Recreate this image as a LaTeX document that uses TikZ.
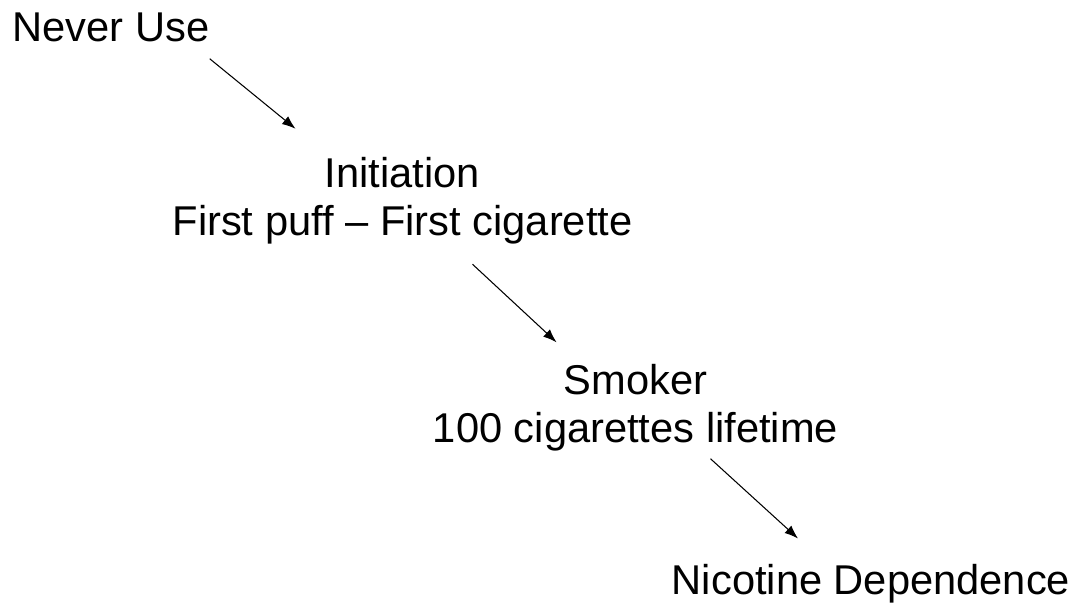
\documentclass[tikz,border=0pt]{standalone}
\usepackage{fontspec}
\setmainfont{Liberation Sans}
\usetikzlibrary{arrows.meta}
\begin{document}
\begin{tikzpicture}[stage/.style={inner sep=0pt,align=center,font=\fontsize{23.7pt}{27.3pt}\selectfont},
        flow/.style={line width=0.6pt,-{Latex[length=2.7mm,width=2mm]}}]
        \useasboundingbox (0,0) rectangle (21.7,12.16);
        \node[stage,anchor=base] (never) at (2.22,11.32) {Never Use};
        \node[stage] (init) at (8.05,8.15) {Initiation\\First puff -- First cigarette};
        \node[stage] (smoker) at (12.71,4.0) {Smoker\\100 cigarettes lifetime};
        \node[stage,anchor=base] (nicotine) at (17.42,0.26) {Nicotine Dependence};
        \draw[flow] ([yshift=-0.32cm]never.south east) -- ([xshift=-2.14cm,yshift=0.56cm]init.north);
        \draw[flow] ([xshift=1.4cm,yshift=-0.4cm]init.south) -- ([xshift=-1.58cm,yshift=0.44cm]smoker.north);
        \draw[flow] ([xshift=1.5cm,yshift=-0.14cm]smoker.south) -- ([xshift=-1.46cm,yshift=0.52cm]nicotine.north);
    \end{tikzpicture}
\end{document}
